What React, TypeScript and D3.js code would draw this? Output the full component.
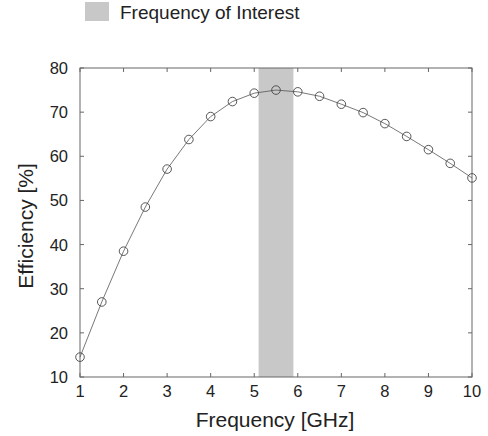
import React from "react";
import * as d3 from "d3";

const freqs = [1, 1.5, 2, 2.5, 3, 3.5, 4, 4.5, 5, 5.5, 6, 6.5, 7, 7.5, 8, 8.5, 9, 9.5, 10];
const efficiency = [14.5, 27, 38.5, 48.5, 57.1, 63.8, 69, 72.4, 74.3, 75, 74.6, 73.6, 71.8, 69.9, 67.4, 64.5, 61.5, 58.4, 55.1];
const bandRange = [5.1, 5.9];
const xTicks = [1, 2, 3, 4, 5, 6, 7, 8, 9, 10];
const yTicks = [10, 20, 30, 40, 50, 60, 70, 80];
const legendLabel = "Frequency of Interest";
const xTitle = "Frequency [GHz]";
const yTitle = "Efficiency [%]";

export default function App() {
  const W = 488, H = 436;
  const left = 80, right = 472, top = 68, bottom = 377;
  const x = d3.scaleLinear().domain([1, 10]).range([left, right]);
  const y = d3.scaleLinear().domain([10, 80]).range([bottom, top]);
  const line = d3.line<number>().x((_, i) => x(freqs[i])).y((d) => y(d));
  const font = "'Liberation Sans', Arial, sans-serif";
  const axisColor = "#666";
  const tl = 4;
  return (
    <svg width={W} height={H} style={{ position: "absolute", left: 0, top: 0, background: "#fff" }} fontFamily={font}>
      <rect x={85} y={2} width={24} height={19} fill="#c8c8c8" />
      <text x={120} y={19} fontSize={19} fill="#222">{legendLabel}</text>
      <rect x={x(bandRange[0])} y={top} width={x(bandRange[1]) - x(bandRange[0])} height={bottom - top} fill="#c8c8c8" />
      <rect x={left} y={top} width={right - left} height={bottom - top} fill="none" stroke={axisColor} strokeWidth={1} />
      {xTicks.map((t) => (
        <g key={"x" + t}>
          <line x1={x(t)} x2={x(t)} y1={bottom} y2={bottom - tl} stroke={axisColor} />
          <line x1={x(t)} x2={x(t)} y1={top} y2={top + tl} stroke={axisColor} />
          <text x={x(t)} y={bottom + 20} fontSize={16.5} textAnchor="middle" fill="#222">{t}</text>
        </g>
      ))}
      {yTicks.map((t) => (
        <g key={"y" + t}>
          <line x1={left} x2={left + tl} y1={y(t)} y2={y(t)} stroke={axisColor} />
          <line x1={right} x2={right - tl} y1={y(t)} y2={y(t)} stroke={axisColor} />
          <text x={left - 12} y={y(t) + 6} fontSize={16.5} textAnchor="end" fill="#222">{t}</text>
        </g>
      ))}
      <path d={line(efficiency) || ""} fill="none" stroke="#555" strokeWidth={0.8} />
      {efficiency.map((v, i) => (
        <circle key={i} cx={x(freqs[i])} cy={y(v)} r={4.3} fill="none" stroke="#444" strokeWidth={0.9} />
      ))}
      <text x={275} y={427} fontSize={21} textAnchor="middle" fill="#222">{xTitle}</text>
      <text transform={`translate(33,226) rotate(-90)`} fontSize={21} textAnchor="middle" fill="#222">{yTitle}</text>
    </svg>
  );
}
